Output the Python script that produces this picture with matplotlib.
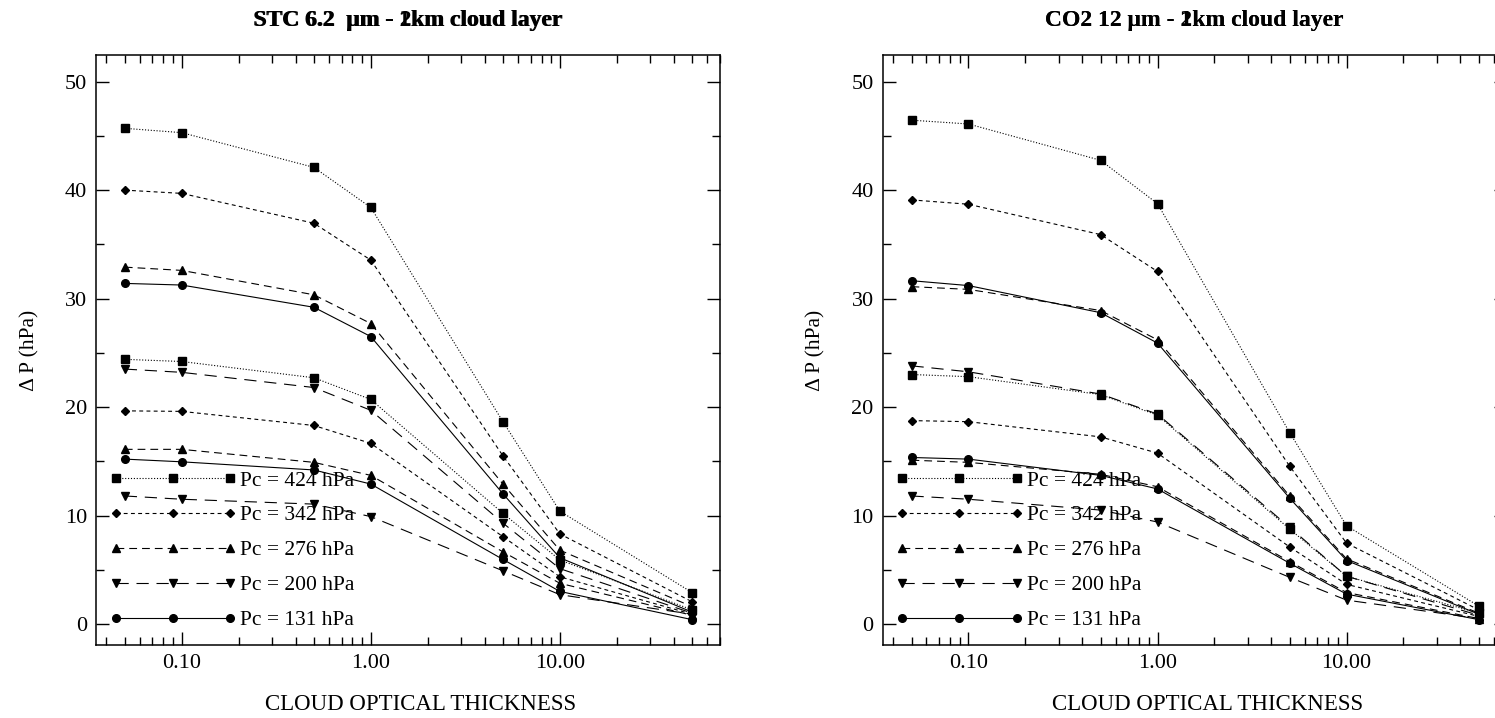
import numpy as np
import matplotlib
matplotlib.use('Agg')
import matplotlib.pyplot as plt
from matplotlib.lines import Line2D
from matplotlib.legend_handler import HandlerLine2D
from matplotlib.ticker import MultipleLocator, FixedLocator, FixedFormatter

plt.rcParams['font.family'] = ['Liberation Serif', 'DejaVu Serif']

tau = [0.05, 0.1, 0.5, 1.0, 5.0, 10.0, 50.0]
pc_labels = ['Pc = 424 hPa', 'Pc = 342 hPa', 'Pc = 276 hPa', 'Pc = 200 hPa', 'Pc = 131 hPa']

# STC 6.2 um, two cloud layers (upper set / lower set)
stc_a = {
    '424': [45.7, 45.3, 42.1, 38.4, 18.65, 10.4, 2.9],
    '342': [40.0, 39.7, 36.95, 33.55, 15.5, 8.3, 2.05],
    '276': [32.9, 32.6, 30.35, 27.7, 12.9, 6.8, 1.6],
    '200': [23.5, 23.2, 21.8, 19.7, 9.3, 5.1, 1.0],
    '131': [31.4, 31.25, 29.2, 26.5, 12.0, 6.1, 1.1],
}
stc_b = {
    '424': [24.4, 24.2, 22.7, 20.7, 10.2, 5.9, 1.3],
    '342': [19.65, 19.6, 18.3, 16.65, 8.05, 4.35, 0.9],
    '276': [16.1, 16.1, 14.9, 13.7, 6.65, 3.75, 0.8],
    '200': [11.8, 11.5, 11.05, 9.9, 4.9, 2.7, 0.9],
    '131': [15.2, 14.95, 14.2, 12.9, 5.95, 3.0, 0.4],
}
# CO2 12 um
co2_a = {
    '424': [46.45, 46.1, 42.75, 38.75, 17.65, 9.05, 1.65],
    '342': [39.1, 38.7, 35.9, 32.5, 14.55, 7.45, 1.3],
    '276': [31.1, 30.85, 28.9, 26.2, 11.8, 6.0, 1.0],
    '200': [23.8, 23.25, 21.2, 19.35, 8.9, 4.4, 0.8],
    '131': [31.65, 31.2, 28.7, 25.9, 11.6, 5.85, 0.9],
}
co2_b = {
    '424': [23.0, 22.8, 21.15, 19.25, 8.75, 4.4, 1.0],
    '342': [18.75, 18.65, 17.25, 15.75, 7.1, 3.65, 0.7],
    '276': [15.1, 14.9, 13.8, 12.65, 5.75, 2.9, 0.5],
    '200': [11.8, 11.5, 10.5, 9.4, 4.3, 2.2, 0.5],
    '131': [15.35, 15.2, 13.7, 12.45, 5.6, 2.75, 0.4],
}

styles = {
    '424': dict(marker='s', ms=5.5, dashes=(1, 1.6)),
    '342': dict(marker='D', ms=3.6, dashes=(3.5, 3)),
    '276': dict(marker='^', ms=5.5, dashes=(7, 4.5)),
    '200': dict(marker='v', ms=5.5, dashes=(11, 7)),
    '131': dict(marker='o', ms=5.5, dashes=()),
}
keys = ['424', '342', '276', '200', '131']

fs = 16

fig = plt.figure(figsize=(14.95, 7.18), dpi=100)
ax1 = fig.add_axes([96/1495, 73/718, 624/1495, 590/718])
ax2 = fig.add_axes([882.7/1495, 73/718, 624/1495, 590/718])


def panel(ax, set_a, set_b, title):
    handles = []
    for k in keys:
        st = styles[k]
        for s in (set_a, set_b):
            if st['dashes']:
                ln, = ax.plot(tau, s[k], color='k', lw=0.8, marker=st['marker'], ms=st['ms'],
                              mfc='k', mec='k', ls='--', dashes=st['dashes'])
            else:
                ln, = ax.plot(tau, s[k], color='k', lw=0.8, marker=st['marker'], ms=st['ms'],
                              mfc='k', mec='k', ls='-')
        handles.append(ln)
    ax.set_xscale('log')
    ax.set_xlim(0.0352, 70.3)
    ax.set_ylim(-1.94, 52.46)
    ax.xaxis.set_major_locator(FixedLocator([0.1, 1, 10]))
    ax.xaxis.set_major_formatter(FixedFormatter(['0.10', '1.00', '10.00']))
    ax.yaxis.set_major_locator(MultipleLocator(10))
    ax.yaxis.set_minor_locator(MultipleLocator(5))
    ax.tick_params(which='both', direction='in', top=True, right=True, width=1.0, labelsize=fs)
    ax.tick_params(which='major', length=9.5, pad=6.5)
    ax.tick_params(which='minor', length=6)
    for sp in ax.spines.values():
        sp.set_linewidth(1.1)
    ax.set_xlabel('CLOUD OPTICAL THICKNESS', fontsize=16.5)
    ax.xaxis.set_label_coords(0.52, -0.083)
    ax.set_ylabel('\u0394 P (hPa)', fontsize=15.5)
    ax.yaxis.set_label_coords(-0.091, 0.5)
    for lab in ('1km', '2km'):
        ax.text(0.5, 1.049, title.replace('#', lab), transform=ax.transAxes, ha='center',
                va='baseline', fontsize=17, fontweight='bold')
    ax.legend(handles=handles, labels=pc_labels, loc='lower left',
              bbox_to_anchor=(0.0316, 0.025), frameon=False, fontsize=15.5,
              numpoints=3, handlelength=5.3, handletextpad=0.47,
              labelspacing=0.69, borderpad=0, borderaxespad=0,
              handler_map={Line2D: HandlerLine2D(marker_pad=0, numpoints=3)})


panel(ax1, stc_a, stc_b, 'STC 6.2  \u03bcm - # cloud layer')
panel(ax2, co2_a, co2_b, 'CO2 12 \u03bcm - # cloud layer')

fig.savefig('out.png', dpi=100)
